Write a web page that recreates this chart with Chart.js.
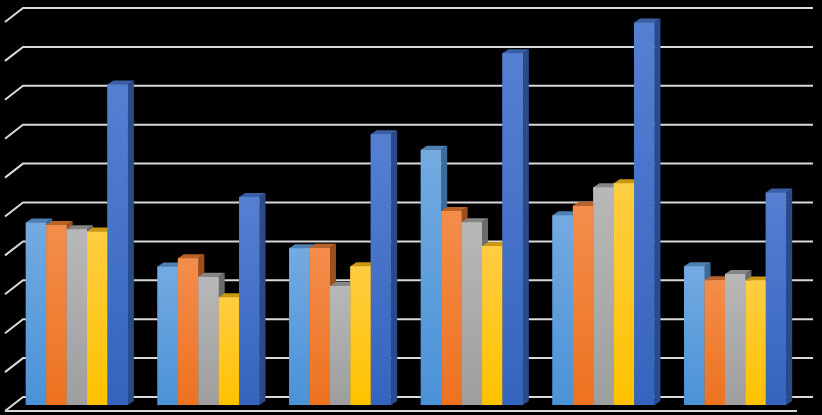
<!DOCTYPE html>
<html>
<head>
<meta charset="utf-8">
<script src="https://cdn.jsdelivr.net/npm/chart.js@4/dist/chart.umd.min.js"></script>
<style>
  html, body { margin: 0; padding: 0; background: #000; }
  #chart { display: block; }
</style>
</head>
<body>
<canvas id="chart" width="822" height="415"></canvas>
<script>
const categories = ['1', '2', '3', '4', '5', '6']
const series1 = [4.69, 3.56, 4.03, 6.56, 4.88, 3.57]
const series2 = [4.63, 3.77, 4.04, 4.99, 5.12, 3.21]
const series3 = [4.52, 3.30, 3.06, 4.70, 5.60, 3.37]
const series4 = [4.46, 2.77, 3.57, 4.09, 5.70, 3.20]
const series5 = [8.24, 5.35, 6.96, 9.04, 9.83, 5.46]
const gridValues = [0, 1, 2, 3, 4, 5, 6, 7, 8, 9, 10]

// front gradient top/bottom, then top face and side face
const palette = [
  { top: '#74aae0', bottom: '#4a92d8', cap: '#4f80b2', side: '#3d6c9c' },
  { top: '#f38d4c', bottom: '#ed7220', cap: '#b9632b', side: '#9a4f20' },
  { top: '#b8b8b8', bottom: '#9e9e9e', cap: '#868686', side: '#6c6c6c' },
  { top: '#ffcd42', bottom: '#ffc200', cap: '#c99710', side: '#b08300' },
  { top: '#5580d2', bottom: '#3564be', cap: '#3b5fa6', side: '#2b4a88' }
]
const depth = { dx: 6, dy: 4 }

function gradientFor(i) {
  return (c) => {
    const chart = c.chart
    const ys = chart.scales.y
    if (!chart.chartArea || !ys || c.raw == null) return palette[i].bottom
    const g = chart.ctx.createLinearGradient(0, ys.getPixelForValue(c.raw), 0, ys.getPixelForValue(0))
    g.addColorStop(0, palette[i].top)
    g.addColorStop(1, palette[i].bottom)
    return g
  }
}

const background = {
  id: 'background',
  beforeDraw(chart) {
    const ctx = chart.ctx
    ctx.save()
    ctx.fillStyle = '#000'
    ctx.fillRect(0, 0, chart.width, chart.height)
    ctx.restore()
  }
}

// back wall grid, left wall edges and floor edge
const walls = {
  id: 'walls',
  beforeDatasetsDraw(chart) {
    const ctx = chart.ctx
    const { left, right, bottom } = chart.chartArea
    const ys = chart.scales.y
    ctx.save()
    ctx.strokeStyle = '#d9d9d9'
    ctx.lineWidth = 2
    gridValues.forEach(v => {
      const py = ys.getPixelForValue(v) - 8
      ctx.beginPath()
      ctx.moveTo(left - 6, py + 14)
      ctx.lineTo(left + 12, py)
      ctx.lineTo(right + 12, py)
      ctx.stroke()
    })
    ctx.beginPath()
    ctx.moveTo(left - 6, bottom + 6)
    ctx.lineTo(right - 4, bottom + 6)
    ctx.stroke()
    ctx.restore()
  }
}

// top and side faces, redrawing bars left to right so each front hides the side behind it
const bars3d = {
  id: 'bars3d',
  afterDatasetsDraw(chart) {
    const ctx = chart.ctx
    chart.data.datasets.forEach((ds, i) => {
      const meta = chart.getDatasetMeta(i)
      meta.data.forEach(bar => {
        const { x, y, base, width } = bar.getProps(['x', 'y', 'base', 'width'], true)
        const l = x - width / 2
        const r = x + width / 2
        ctx.save()
        ctx.fillStyle = palette[i].side
        ctx.beginPath()
        ctx.moveTo(r, y)
        ctx.lineTo(r + depth.dx, y - depth.dy)
        ctx.lineTo(r + depth.dx, base - depth.dy)
        ctx.lineTo(r, base)
        ctx.closePath()
        ctx.fill()
        ctx.fillStyle = palette[i].cap
        ctx.beginPath()
        ctx.moveTo(l, y)
        ctx.lineTo(l + depth.dx, y - depth.dy)
        ctx.lineTo(r + depth.dx, y - depth.dy)
        ctx.lineTo(r, y)
        ctx.closePath()
        ctx.fill()
        ctx.restore()
        bar.draw(ctx)
      })
    })
  }
}

const seriesList = [series1, series2, series3, series4, series5]

new Chart(document.querySelector('#chart').getContext('2d'), {
  type: 'bar',
  data: {
    labels: categories,
    datasets: seriesList.map((s, i) => ({
      label: 'Series ' + (i + 1),
      data: s,
      backgroundColor: gradientFor(i),
      borderWidth: 0,
      categoryPercentage: 0.775,
      barPercentage: 1.0
    }))
  },
  options: {
    responsive: false,
    animation: false,
    layout: { padding: { left: 11, right: 21, top: 16, bottom: 10 } },
    plugins: { legend: { display: false }, tooltip: { enabled: false } },
    scales: {
      x: { display: false },
      y: { display: false, min: 0, max: 10 }
    }
  },
  plugins: [background, walls, bars3d]
})
</script>
</body>
</html>
